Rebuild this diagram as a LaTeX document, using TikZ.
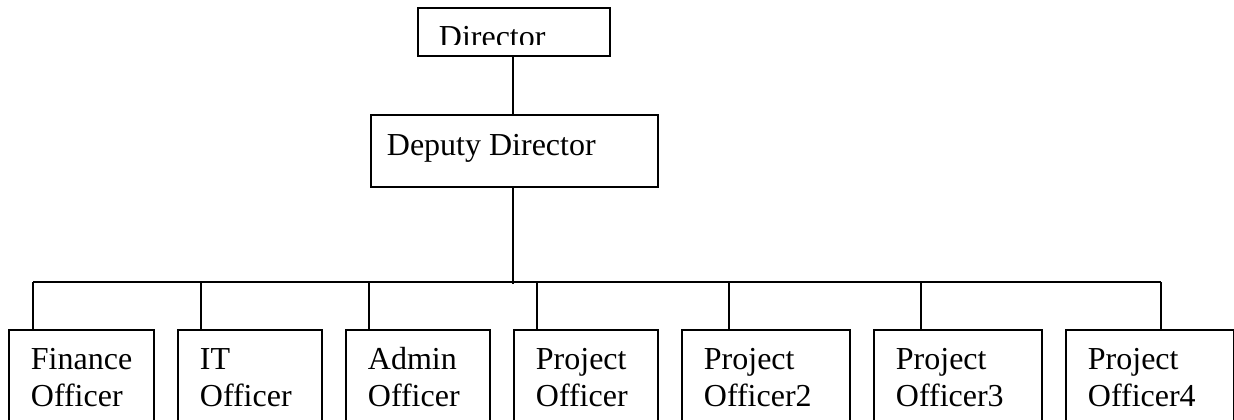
\documentclass[tikz,border=0pt]{standalone}
\usepackage{fontspec}
\setmainfont{Liberation Serif}
\begin{document}
\begin{tikzpicture}[x=1pt,y=-1pt,
  line width=1.8pt,
  box/.style={draw, line width=1.8pt, rectangle, inner sep=0pt, anchor=north west},
  label/.style={anchor=base west, inner sep=0pt, align=left,
    font=\fontsize{32}{37}\selectfont},
  link/.style={line width=1.8pt}]
\useasboundingbox (0,0) rectangle (1234,420);
\clip (0,0) rectangle (1234,420);

% top of the chart
\node[box, minimum width=192pt, minimum height=48pt] (dir) at (417,7) {};
\begin{scope}
  \clip (417,7) rectangle (609,44.5);
  \node[label] (dirtext) at (438,47.5) {Director};
\end{scope}

\node[box, minimum width=287pt, minimum height=72pt] (dep) at (370,114) {};
\node[label] (deptext) at (386,155) {Deputy Director};

\draw[link] (dir.south -| 513,0) -- (dep.north -| 513,0);

% officers row (boxes run past the lower edge); base anchor sits on the last line
\foreach \n/\l/\w/\t in {
  1/8/145/{Finance\\Officer},
  2/177/144/{IT\\Officer},
  3/345/144/{Admin\\Officer},
  4/513/144/{Project\\Officer},
  5/681/168/{Project\\Officer2},
  6/873/168/{Project\\Officer3},
  7/1065/168/{Project\\Officer4}}{
  \node[box, minimum width=\w pt, minimum height=120pt] (b\n) at (\l,329) {};
  \node[label] (t\n) at (\l+22,406) {\t};
}

% drop points on the bus line
\coordinate (d1) at (33,282);
\coordinate (d2) at (201,282);
\coordinate (d3) at (369,282);
\coordinate (d4) at (537,282);
\coordinate (d5) at (729,282);
\coordinate (d6) at (921,282);
\coordinate (d7) at (1161,282);
\coordinate (bus) at (513,283.5);

\draw[link] (dep.south -| bus) -- (bus);
\draw[link] (d1) -- (d7);
\foreach \n in {1,...,7}{
  \draw[link] (d\n) -- (d\n |- b\n.north);
}
\end{tikzpicture}
\end{document}
